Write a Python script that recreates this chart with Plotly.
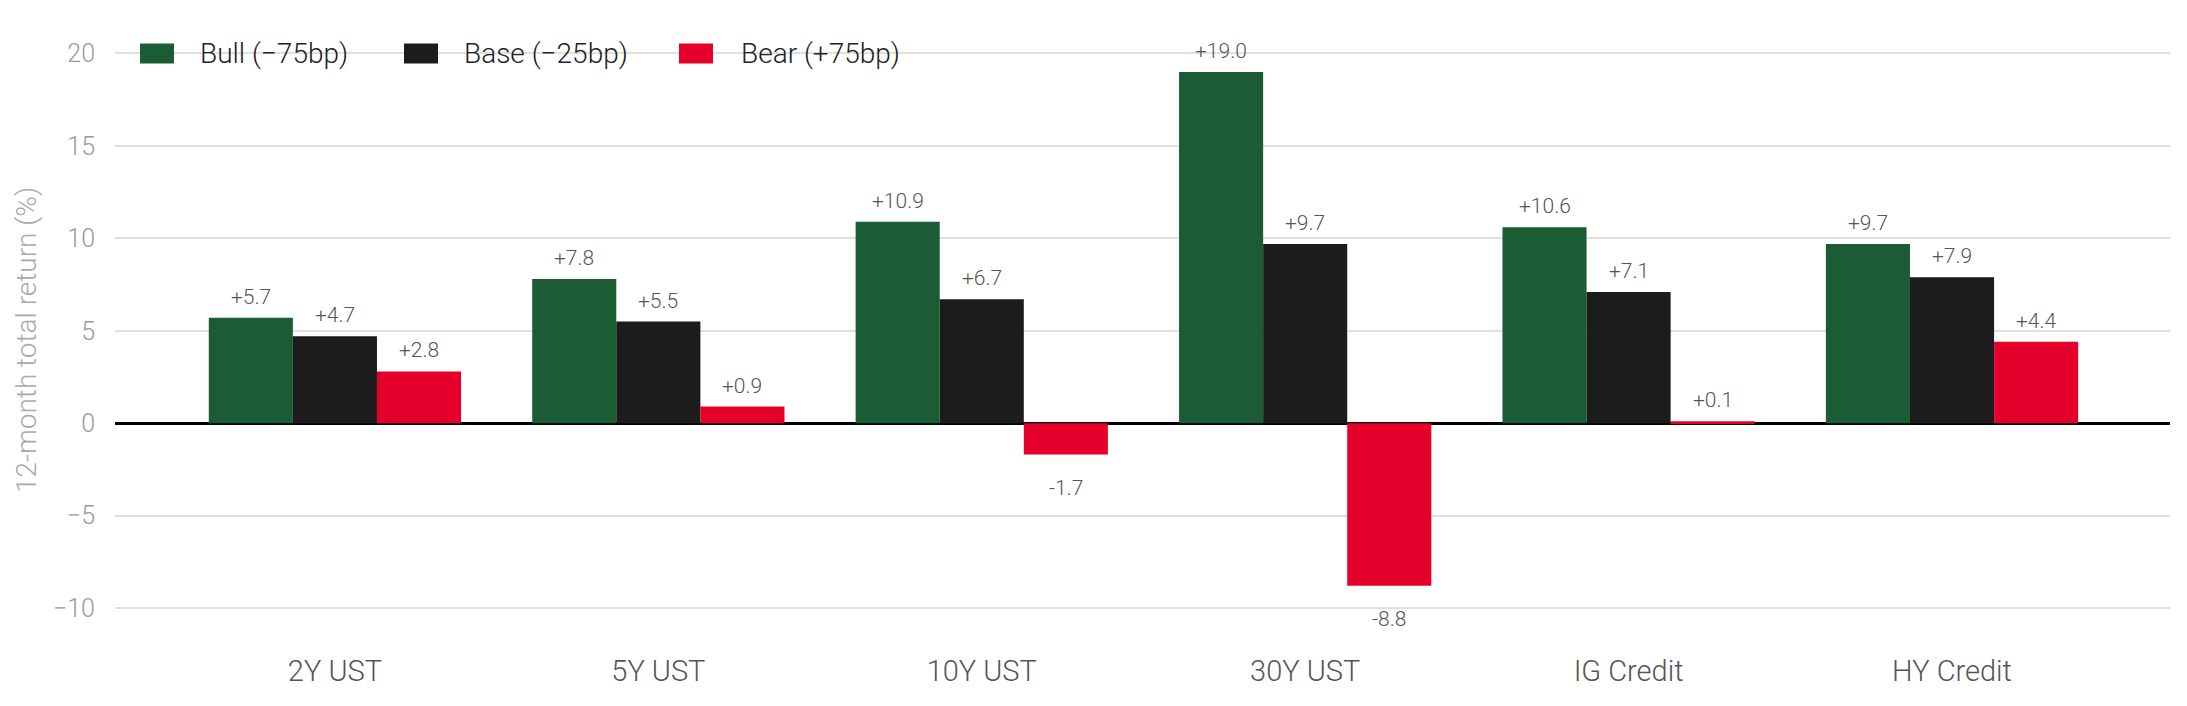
import plotly.graph_objects as go

categories = ["2Y UST", "5Y UST", "10Y UST", "30Y UST", "IG Credit", "HY Credit"]
series_names = ["Bull (\u221275bp)", "Base (\u221225bp)", "Bear (+75bp)"]
bull = [5.7, 7.8, 10.9, 19.0, 10.6, 9.7]
base = [4.7, 5.5, 6.7, 9.7, 7.1, 7.9]
bear = [2.8, 0.9, -1.7, -8.8, 0.1, 4.4]
y_ticks = [-10, -5, 0, 5, 10, 15, 20]

series_values = [bull, base, bear]
colors = ["#1b5c34", "#1c1c1c", "#e4002b"]

FONT = "Roboto Light, Roboto"
BARGAP = 0.22

fig = go.Figure()
for name, vals, col in zip(series_names, series_values, colors):
    fig.add_trace(go.Bar(
        name=name, x=categories, y=vals,
        marker=dict(color=col, line=dict(width=0)),
        showlegend=False,
    ))

annotations = []
n = len(series_values)
bw = (1 - BARGAP) / n
for i, vals in enumerate(series_values):
    off = (i - (n - 1) / 2) * bw
    for j, v in enumerate(vals):
        txt = f"+{v:.1f}" if v >= 0 else f"-{abs(v):.1f}"
        annotations.append(dict(
            x=j + off, y=v, xref="x", yref="y", text=txt, showarrow=False,
            xanchor="center", yanchor="bottom" if v >= 0 else "top",
            yshift=7 if v >= 0 else -19,
            font=dict(family=FONT, size=21, color="#555555", weight=300),
        ))

# legend (manual, drawn in pixel offsets from the plot's left edge at y=20)
sq_x = [25, 289, 564]
tx_x = [83, 347, 624]
shapes = []
for i in range(n):
    shapes.append(dict(
        type="rect", xref="paper", yref="y", xsizemode="pixel", ysizemode="pixel",
        xanchor=0, yanchor=20, x0=sq_x[i], x1=sq_x[i] + 34, y0=-10, y1=10,
        fillcolor=colors[i], line=dict(width=0), layer="above",
    ))
    annotations.append(dict(
        x=0, y=20, xref="paper", yref="y", xanchor="left", yanchor="middle",
        xshift=tx_x[i], text=series_names[i], showarrow=False,
        font=dict(family=FONT, size=28, color="#222222", weight=300),
    ))

fig.update_layout(
    width=2187, height=706,
    margin=dict(l=107, r=25, t=27, b=69),
    paper_bgcolor="white", plot_bgcolor="white",
    barmode="group", bargap=BARGAP, bargroupgap=0,
    font=dict(family=FONT, weight=300),
    annotations=annotations, shapes=shapes,
    showlegend=False,
)
fig.update_xaxes(
    range=[-0.68, 5.674], showgrid=False, showline=False, zeroline=False,
    automargin=False,
    ticks="outside", ticklen=0, tickcolor="rgba(0,0,0,0)",
    tickfont=dict(family=FONT, size=29, color="#555555", weight=300),
)
fig.update_yaxes(
    range=[-12, 21], tickvals=y_ticks, showgrid=True, gridcolor="#e2e0de", gridwidth=2,
    zeroline=True, zerolinecolor="#000000", zerolinewidth=3, showline=False,
    automargin=False,
    ticks="outside", ticklen=14, tickcolor="rgba(0,0,0,0)",
    tickfont=dict(family=FONT, size=25, color="#9a9a9a", weight=300),
    title=dict(text="12-month total return (%)", standoff=8,
               font=dict(family=FONT, size=28, color="#aaaaaa", weight=300)),
)

fig.write_html("out.html")
